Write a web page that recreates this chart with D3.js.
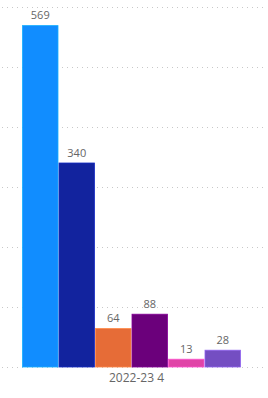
<!DOCTYPE html>
<html><head><meta charset="utf-8">
<script src="https://cdn.jsdelivr.net/npm/d3@7"></script>
<style>html,body{margin:0;padding:0;background:#fff;}svg{display:block;}</style>
</head><body>
<svg id="chart" width="268" height="398"></svg>
<script>
const category = "2022-23 4";
const series = ["s1","s2","s3","s4","s5","s6"];
const values = [569, 340, 64, 88, 13, 28];
const colors = ["#118DFF","#12239E","#E66C37","#6B007B","#E044A7","#744EC2"];
const gridTicks = [0,100,200,300,400,500,600];

const svg = d3.select("#chart");
const y = d3.scaleLinear().domain([0,600]).range([367,7]);
const x0 = d3.scaleBand().domain([category]).range([22,241]).padding(0);
const x1 = d3.scaleBand().domain(series).range([0, x0.bandwidth()]).padding(0);

svg.append("g").selectAll("line").data(gridTicks).join("line")
  .attr("x1",2).attr("x2",266)
  .attr("y1",d=>y(d)+0.5).attr("y2",d=>y(d)+0.5)
  .attr("stroke","#c8c8c8").attr("stroke-width",1)
  .attr("stroke-dasharray","1,4");

const g = svg.append("g").attr("transform",`translate(${x0(category)},0)`);
g.selectAll("rect").data(values).join("rect")
  .attr("x",(d,i)=>x1(series[i])+0.5)
  .attr("y",d=>y(d))
  .attr("width",x1.bandwidth()-1)
  .attr("height",d=>y(0)-y(d))
  .attr("fill",(d,i)=>colors[i])
  .attr("stroke",(d,i)=>d3.color(colors[i]).brighter(0.6))
  .attr("stroke-width",0.8);

g.selectAll("text").data(values).join("text")
  .attr("x",(d,i)=>x1(series[i])+x1.bandwidth()/2)
  .attr("y",d=>y(d)-6.5)
  .attr("text-anchor","middle")
  .attr("font-family","'Open Sans', 'DejaVu Sans', sans-serif")
  .attr("font-size",11)
  .attr("fill","#666666")
  .text(d=>d);

svg.append("text")
  .attr("x",x0(category)+x0.bandwidth()/2+5)
  .attr("y",381.5)
  .attr("text-anchor","middle")
  .attr("font-family","'Open Sans', 'DejaVu Sans', sans-serif")
  .attr("font-size",12)
  .attr("fill","#666666")
  .text(category);
</script>
</body></html>
